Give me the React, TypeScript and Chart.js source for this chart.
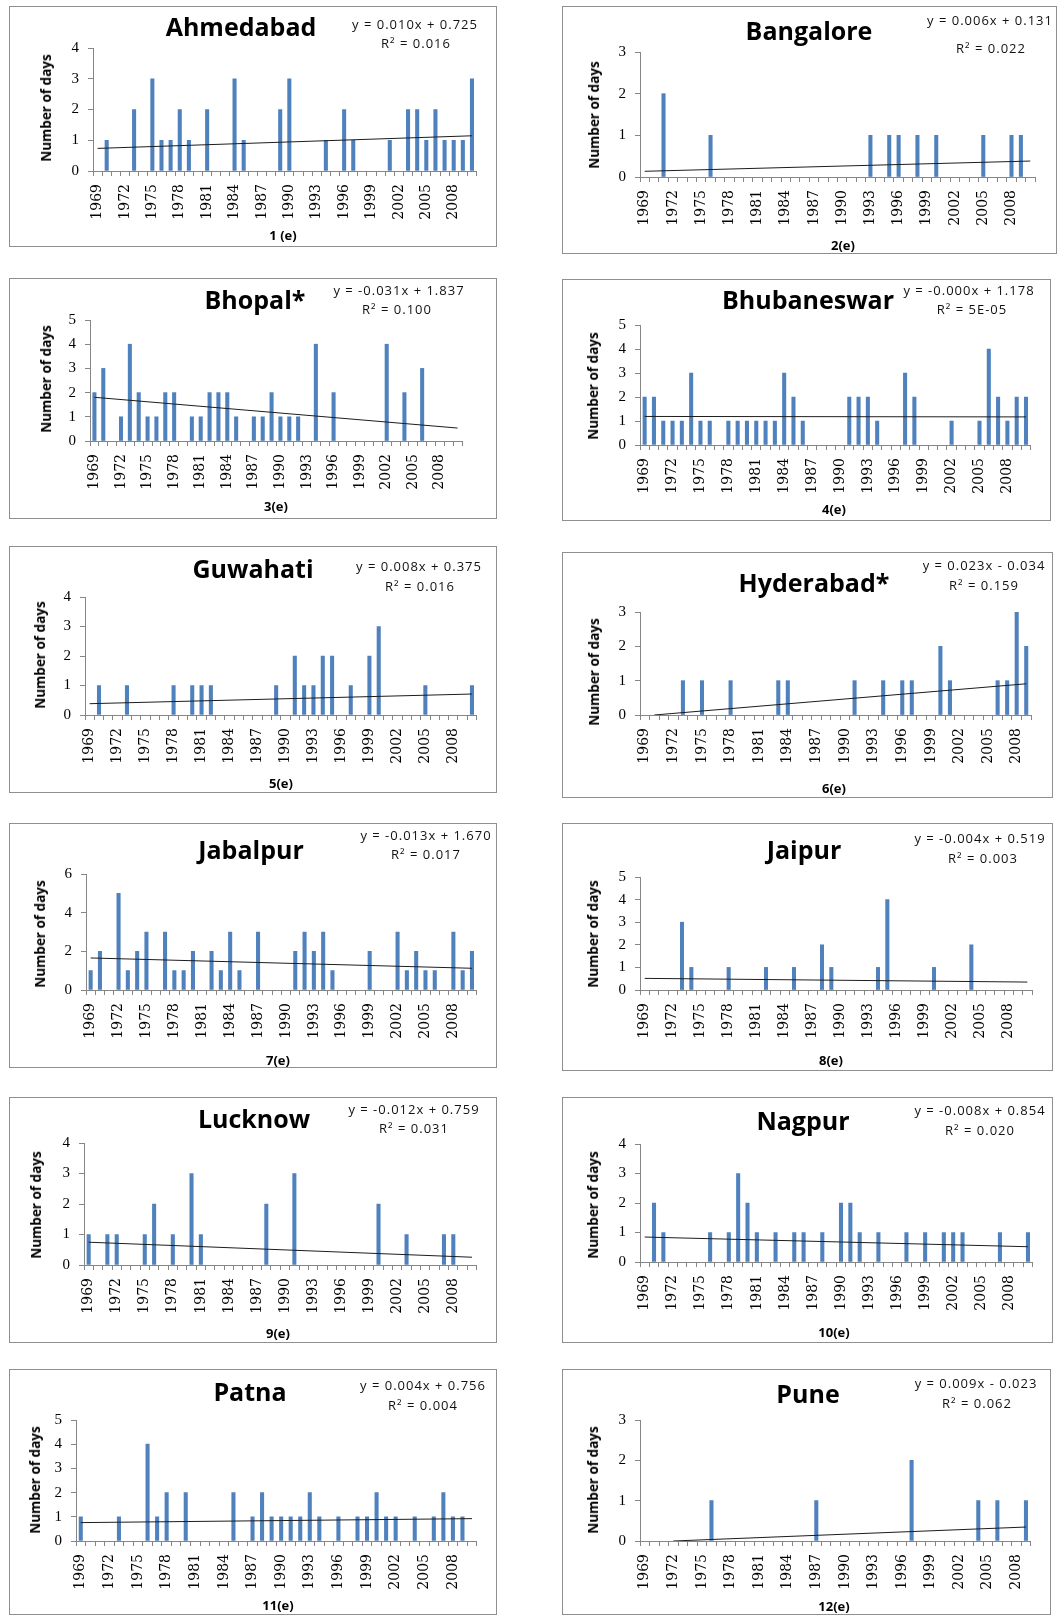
import React, { useEffect, useRef } from 'react';
import { Chart, registerables } from 'chart.js';
Chart.register(...registerables);

// ---------- DATA ----------
const yearLabels = [
  '1969', '1970', '1971', '1972', '1973', '1974', '1975', '1976', '1977', '1978',
  '1979', '1980', '1981', '1982', '1983', '1984', '1985', '1986', '1987', '1988',
  '1989', '1990', '1991', '1992', '1993', '1994', '1995', '1996', '1997', '1998',
  '1999', '2000', '2001', '2002', '2003', '2004', '2005', '2006', '2007', '2008',
  '2009', '2010',
];

const cityNames = ['Ahmedabad', 'Bangalore', 'Bhopal*', 'Bhubaneswar', 'Guwahati', 'Hyderabad*', 'Jabalpur', 'Jaipur', 'Lucknow', 'Nagpur', 'Patna', 'Pune'];
const panelTags = ['1 (e)', '2(e)', '3(e)', '4(e)', '5(e)', '6(e)', '7(e)', '8(e)', '9(e)', '10(e)', '11(e)', '12(e)'];
const equations = [
  'y = 0.010x + 0.725', 'y = 0.006x + 0.131', 'y = -0.031x + 1.837', 'y = -0.000x + 1.178',
  'y = 0.008x + 0.375', 'y = 0.023x - 0.034', 'y = -0.013x + 1.670', 'y = -0.004x + 0.519',
  'y = -0.012x + 0.759', 'y = -0.008x + 0.854', 'y = 0.004x + 0.756', 'y = 0.009x - 0.023',
];
const rSquared = ['0.016', '0.022', '0.100', '5E-05', '0.016', '0.159', '0.017', '0.003', '0.031', '0.020', '0.004', '0.062'];
const yMax = [4, 3, 5, 5, 4, 3, 6, 5, 4, 4, 5, 3];
const yStep = [1, 1, 1, 1, 1, 1, 2, 1, 1, 1, 1, 1];
const lastYear = ['2010', '2010', '2010', '2010', '2010', '2009', '2010', '2010', '2010', '2010', '2010', '2009'];
// trend line end points (where the line is visible in the picture)
const trendFromYear = ['1969', '1969', '1969', '1969', '1969', '1970', '1969', '1969', '1969', '1969', '1969', '1972'];
const trendStart = [0.735, 0.137, 1.806, 1.19, 0.383, 0.0, 1.657, 0.515, 0.747, 0.846, 0.760, 0.0];
const trendEnd = [1.145, 0.383, 0.535, 1.17, 0.711, 0.909, 1.124, 0.351, 0.255, 0.518, 0.924, 0.346];

const ahmedabadYears = [1970, 1973, 1975, 1976, 1977, 1978, 1979, 1981, 1984, 1985, 1989, 1990, 1994, 1996, 1997, 2001, 2003, 2004, 2005, 2006, 2007, 2008, 2009, 2010];
const ahmedabadDays = [1, 2, 3, 1, 1, 2, 1, 2, 3, 1, 2, 3, 1, 2, 1, 1, 2, 2, 1, 2, 1, 1, 1, 3];

const bangaloreYears = [1971, 1976, 1993, 1995, 1996, 1998, 2000, 2005, 2008, 2009];
const bangaloreDays = [2, 1, 1, 1, 1, 1, 1, 1, 1, 1];

const bhopalYears = [1969, 1970, 1972, 1973, 1974, 1975, 1976, 1977, 1978, 1980, 1981, 1982, 1983, 1984, 1985, 1987, 1988, 1989, 1990, 1991, 1992, 1994, 1996, 2002, 2004, 2006];
const bhopalDays = [2, 3, 1, 4, 2, 1, 1, 2, 2, 1, 1, 2, 2, 2, 1, 1, 1, 2, 1, 1, 1, 4, 2, 4, 2, 3];

const bhubaneswarYears = [1969, 1970, 1971, 1972, 1973, 1974, 1975, 1976, 1978, 1979, 1980, 1981, 1982, 1983, 1984, 1985, 1986, 1991, 1992, 1993, 1994, 1997, 1998, 2002, 2005, 2006, 2007, 2008, 2009, 2010];
const bhubaneswarDays = [2, 2, 1, 1, 1, 3, 1, 1, 1, 1, 1, 1, 1, 1, 3, 2, 1, 2, 2, 2, 1, 3, 2, 1, 1, 4, 2, 1, 2, 2];

const guwahatiYears = [1970, 1973, 1978, 1980, 1981, 1982, 1989, 1991, 1992, 1993, 1994, 1995, 1997, 1999, 2000, 2005, 2010];
const guwahatiDays = [1, 1, 1, 1, 1, 1, 1, 2, 1, 1, 2, 2, 1, 2, 3, 1, 1];

const hyderabadYears = [1973, 1975, 1978, 1983, 1984, 1991, 1994, 1996, 1997, 2000, 2001, 2006, 2007, 2008, 2009];
const hyderabadDays = [1, 1, 1, 1, 1, 1, 1, 1, 1, 2, 1, 1, 1, 3, 2];

const jabalpurYears = [1969, 1970, 1972, 1973, 1974, 1975, 1977, 1978, 1979, 1980, 1982, 1983, 1984, 1985, 1987, 1991, 1992, 1993, 1994, 1995, 1999, 2002, 2003, 2004, 2005, 2006, 2008, 2009, 2010];
const jabalpurDays = [1, 2, 5, 1, 2, 3, 3, 1, 1, 2, 2, 1, 3, 1, 3, 2, 3, 2, 3, 1, 2, 3, 1, 2, 1, 1, 3, 1, 2];

const jaipurYears = [1973, 1974, 1978, 1982, 1985, 1988, 1989, 1994, 1995, 2000, 2004];
const jaipurDays = [3, 1, 1, 1, 1, 2, 1, 1, 4, 1, 2];

const lucknowYears = [1969, 1971, 1972, 1975, 1976, 1978, 1980, 1981, 1988, 1991, 2000, 2003, 2007, 2008];
const lucknowDays = [1, 1, 1, 1, 2, 1, 3, 1, 2, 3, 2, 1, 1, 1];

const nagpurYears = [1970, 1971, 1976, 1978, 1979, 1980, 1981, 1983, 1985, 1986, 1988, 1990, 1991, 1992, 1994, 1997, 1999, 2001, 2002, 2003, 2007, 2010];
const nagpurDays = [2, 1, 1, 1, 3, 2, 1, 1, 1, 1, 1, 2, 2, 1, 1, 1, 1, 1, 1, 1, 1, 1];

const patnaYears = [1969, 1973, 1976, 1977, 1978, 1980, 1985, 1987, 1988, 1989, 1990, 1991, 1992, 1993, 1994, 1996, 1998, 1999, 2000, 2001, 2002, 2004, 2006, 2007, 2008, 2009];
const patnaDays = [1, 1, 4, 1, 2, 2, 2, 1, 2, 1, 1, 1, 1, 2, 1, 1, 1, 1, 2, 1, 1, 1, 1, 2, 1, 1];

const puneYears = [1976, 1987, 1997, 2004, 2006, 2009];
const puneDays = [1, 1, 2, 1, 1, 1];

const cityYears = [ahmedabadYears, bangaloreYears, bhopalYears, bhubaneswarYears, guwahatiYears, hyderabadYears, jabalpurYears, jaipurYears, lucknowYears, nagpurYears, patnaYears, puneYears];
const cityDays = [ahmedabadDays, bangaloreDays, bhopalDays, bhubaneswarDays, guwahatiDays, hyderabadDays, jabalpurDays, jaipurDays, lucknowDays, nagpurDays, patnaDays, puneDays];

// ---------- LAYOUT (page px) ----------
type Layout = {
  box: number[]; // x, y, w, h
  plot: number[]; // left, top, right, bottom (relative to box)
  title: number[];
  eq1: number[];
  eq2: number[];
  yTitle: number[];
  xTitle: number[];
};

const layouts: Layout[] = [
  { box: [9, 6, 488, 241], plot: [84, 42, 469, 165], title: [232, 20], eq1: [406, 18], eq2: [407, 37], yTitle: [37, 102], xTitle: [274, 229] },
  { box: [562, 6, 495, 248], plot: [78, 46, 473, 171], title: [247, 24], eq1: [428, 14], eq2: [429, 42], yTitle: [32, 109], xTitle: [281, 239] },
  { box: [9, 278, 488, 241], plot: [81, 42, 453, 163], title: [246, 21], eq1: [390, 12], eq2: [388, 31], yTitle: [37, 101], xTitle: [267, 228] },
  { box: [562, 279, 489, 242], plot: [78, 46, 472, 166], title: [246, 20], eq1: [407, 11], eq2: [410, 30], yTitle: [31, 107], xTitle: [272, 230] },
  { box: [9, 546, 488, 247], plot: [76, 51, 469, 169], title: [244, 22], eq1: [410, 20], eq2: [411, 40], yTitle: [31, 109], xTitle: [272, 237] },
  { box: [562, 552, 491, 246], plot: [78, 60, 469, 163], title: [252, 30], eq1: [422, 13], eq2: [422, 33], yTitle: [32, 120], xTitle: [272, 236] },
  { box: [9, 823, 488, 245], plot: [77, 51, 469, 167], title: [242, 26], eq1: [417, 12], eq2: [417, 31], yTitle: [31, 111], xTitle: [269, 237] },
  { box: [562, 823, 491, 248], plot: [78, 54, 470, 167], title: [242, 26], eq1: [418, 15], eq2: [421, 35], yTitle: [31, 111], xTitle: [269, 237] },
  { box: [9, 1097, 488, 246], plot: [75, 46, 472, 168], title: [245, 21], eq1: [405, 12], eq2: [405, 31], yTitle: [27, 108], xTitle: [269, 236] },
  { box: [562, 1097, 491, 246], plot: [78, 47, 472, 165], title: [241, 23], eq1: [418, 13], eq2: [418, 33], yTitle: [31, 108], xTitle: [272, 235] },
  { box: [9, 1369, 488, 246], plot: [67, 51, 471, 172], title: [241, 22], eq1: [414, 16], eq2: [414, 36], yTitle: [26, 111], xTitle: [269, 236] },
  { box: [562, 1369, 489, 246], plot: [78, 51, 469, 172], title: [246, 24], eq1: [414, 14], eq2: [415, 34], yTitle: [31, 111], xTitle: [272, 237] },
];

const Y_W = 30;
const X_H = 52;
const AXIS = '#868686';
const BAR = '#4f81bd';
const SANS = '"Open Sans", "Liberation Sans", sans-serif';
const XFONT = '"DejaVu Serif", "Liberation Serif", serif';
const YFONT = '"Liberation Serif", "DejaVu Serif", serif';

function Panel({ idx }: { idx: number }) {
  const ref = useRef<HTMLCanvasElement>(null);
  const L = layouts[idx];
  const [bx, by, bw, bh] = L.box;
  const [pl, pt, pr, pb] = L.plot;

  useEffect(() => {
    const n = yearLabels.indexOf(lastYear[idx]) + 1;
    const labels = yearLabels.slice(0, n);
    const values: (number | null)[] = labels.map(() => null);
    cityYears[idx].forEach((yr, i) => {
      values[labels.indexOf(String(yr))] = cityDays[idx][i];
    });
    const chart = new Chart(ref.current as HTMLCanvasElement, {
      data: {
        labels,
        datasets: [
          {
            type: 'line',
            data: [
              { x: trendFromYear[idx], y: trendStart[idx] },
              { x: labels[n - 1], y: trendEnd[idx] },
            ] as any,
            borderColor: '#1c1c1c',
            borderWidth: 1,
            pointRadius: 0,
            order: 1,
          },
          {
            type: 'bar',
            data: values as any,
            backgroundColor: BAR,
            barThickness: 3.4,
            order: 2,
          },
        ],
      } as any,
      options: {
        responsive: false,
        animation: false,
        events: [],
        layout: {
          padding: { left: pl - Y_W, top: pt, right: bw - pr, bottom: bh - pb - X_H },
        },
        plugins: {
          legend: { display: false },
          tooltip: { enabled: false },
          title: { display: false },
        },
        scales: {
          x: {
            type: 'category',
            offset: true,
            grid: { offset: true, drawOnChartArea: false, drawTicks: true, tickLength: 5, color: AXIS },
            border: { color: AXIS, width: 1 },
            ticks: {
              autoSkip: false,
              maxRotation: 90,
              minRotation: 90,
              padding: 8,
              color: '#000',
              font: { family: XFONT, size: 14 },
              callback: (_v: any, i: number) => (i % 3 === 0 ? labels[i] : ''),
            },
            afterFit: (s: any) => {
              s.height = X_H;
            },
          },
          y: {
            min: 0,
            max: yMax[idx],
            grid: { drawOnChartArea: false, drawTicks: true, tickLength: 5, color: AXIS },
            border: { color: AXIS, width: 1 },
            ticks: {
              stepSize: yStep[idx],
              padding: 9,
              color: '#000',
              font: { family: YFONT, size: 15 },
            },
            afterFit: (s: any) => {
              s.width = Y_W;
            },
          },
        },
      } as any,
    });
    return () => chart.destroy();
  }, [idx]);

  const center = (p: number[]): React.CSSProperties => ({
    position: 'absolute',
    left: p[0],
    top: p[1],
    transform: 'translate(-50%, -50%)',
    whiteSpace: 'nowrap',
  });

  return (
    <div style={{ position: 'absolute', left: bx, top: by, width: bw, height: bh, background: '#fff' }}>
      <canvas ref={ref} width={bw} height={bh} style={{ position: 'absolute', left: 0, top: 0, width: bw, height: bh }} />
      <div style={{ ...center(L.title), fontFamily: SANS, fontWeight: 700, fontSize: 25, color: '#000' }}>{cityNames[idx]}</div>
      <div style={{ ...center(L.eq1), fontFamily: SANS, fontSize: 13, letterSpacing: 1, color: '#111' }}>{equations[idx]}</div>
      <div style={{ ...center(L.eq2), fontFamily: SANS, fontSize: 13, letterSpacing: 1, color: '#111' }}>{'R² = ' + rSquared[idx]}</div>
      <div style={{ ...center(L.yTitle), transform: 'translate(-50%, -50%) rotate(-90deg)', fontFamily: SANS, fontWeight: 700, fontSize: 13.5, color: '#000' }}>
        Number of days
      </div>
      <div style={{ ...center(L.xTitle), fontFamily: SANS, fontWeight: 700, fontSize: 13, color: '#000' }}>{panelTags[idx]}</div>
      <div style={{ position: 'absolute', left: 0, top: 0, width: bw, height: bh, border: '1px solid #8f8f8f', boxSizing: 'border-box', pointerEvents: 'none' }} />
    </div>
  );
}

export default function App() {
  return (
    <div style={{ position: 'absolute', left: 0, top: 0, width: 1058, height: 1616, background: '#fff', overflow: 'hidden' }}>
      {layouts.map((_, i) => (
        <Panel key={i} idx={i} />
      ))}
    </div>
  );
}
